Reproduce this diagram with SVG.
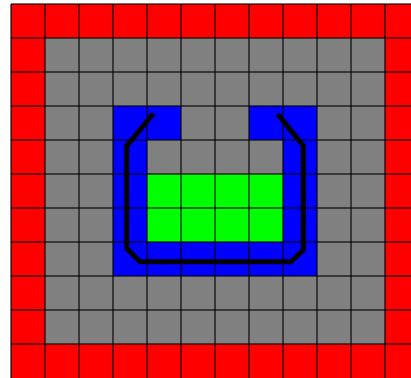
<svg xmlns="http://www.w3.org/2000/svg" width="411" height="378" viewBox="0 0 411 378">
<style>
.g{stroke:#000;stroke-opacity:0.75;stroke-width:1.5;fill:none}
.p{stroke:#000;stroke-width:5;fill:none;stroke-linejoin:miter}
</style>
<rect width="411" height="378" fill="#fff"/>
<rect x="11" y="4" width="408" height="374" fill="#ff0000"/>
<rect x="45" y="38" width="340" height="306" fill="#808080"/>
<rect x="113" y="106" width="204" height="170" fill="#0000ff"/>
<rect x="181" y="106" width="68" height="34" fill="#808080"/>
<rect x="147" y="140" width="136" height="34" fill="#808080"/>
<rect x="147" y="174" width="136" height="68" fill="#00ff00"/>
<g class="g">
<path d="M11 4V378M45 4V378M79 4V378M113 4V378M147 4V378M181 4V378M215 4V378M249 4V378M283 4V378M317 4V378M351 4V378M385 4V378"/>
<path d="M11 4H411M11 38H411M11 72H411M11 106H411M11 140H411M11 174H411M11 208H411M11 242H411M11 276H411M11 310H411M11 344H411"/>
</g>
<path class="p" d="M153.5 113.5L126.7 146V248.5L140 261.7H291L303.3 250V146L277.7 114"/>
</svg>
